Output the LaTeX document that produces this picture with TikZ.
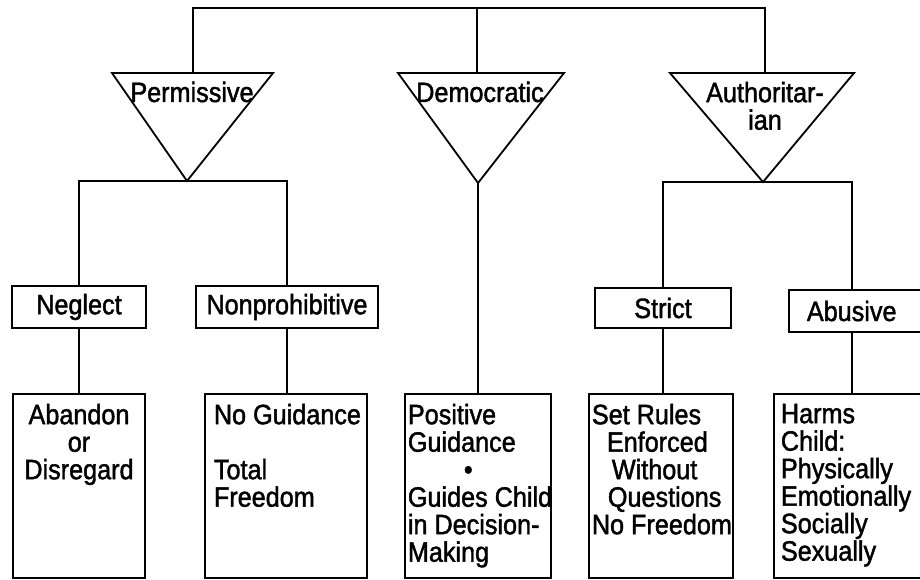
\documentclass[tikz,border=0pt]{standalone}
\usepackage{fontspec}
\setmainfont{Liberation Sans}[FakeStretch=0.9,FakeBold=1.5]
\tikzset{
  lbl/.style={font=\fontsize{28}{27.5}\selectfont, inner sep=0pt},
  catbox/.style={draw, lbl, minimum height=41pt},
  leafbox/.style={draw, inner sep=0pt, minimum height=184pt, anchor=north},
  leaftext/.style={lbl, anchor=north west, align=left},
}
\begin{document}
\begin{tikzpicture}[x=1pt,y=-1pt,line width=1.8pt]
\useasboundingbox (0,0) rectangle (920,580);
\clip (0,0) rectangle (920,580);
% three styles
\coordinate (root) at (477,8);
\coordinate (permtop) at (193,73);
\coordinate (demtop) at (477,73);
\coordinate (authtop) at (765,73);
\coordinate (permtip) at (187,181);
\coordinate (demtip) at (478,183);
\coordinate (authtip) at (763,182);
\draw (112,73) -- (273,73) -- (permtip) -- cycle;
\draw (398,73) -- (564,73) -- (demtip) -- cycle;
\draw (670,73) -- (854,73) -- (authtip) -- cycle;
\node[lbl, anchor=base] (perm) at (192,102) {Permissive};
\node[lbl, anchor=base] (dem) at (480,102) {Democratic};
\node[lbl, anchor=north, align=center] (auth) at (765,81) {Authoritar-\\ian};
\draw (permtop) |- (root) -| (authtop);
\draw (root) -- (demtop);
% second level
\node[catbox, minimum width=134pt, minimum height=42pt] (neglect) at (79,307) {Neglect};
\node[catbox, minimum width=182pt, minimum height=42pt] (nonpro) at (287,307) {Nonprohibitive};
\node[catbox, minimum width=136pt, minimum height=40pt] (strict) at (663,308) {Strict};
\node[catbox, anchor=west, minimum width=150pt, minimum height=42pt, text width=134pt, align=left] (abusive) at (788,311) {\hspace*{10pt}Abusive};
\draw (neglect.north) |- (permtip) -| (nonpro.north);
\draw (strict.north) |- (authtip) -| ([xshift=64pt]abusive.north west);
% leaves
\node[leafbox, minimum width=132pt] (abandon) at (79,393) {};
\node[leafbox, minimum width=162pt] (noguide) at (286,393) {};
\node[leafbox, minimum width=146pt] (positive) at (478,393) {};
\node[leafbox, minimum width=144pt] (setrules) at (661,393) {};
\node[leafbox, minimum width=170pt, anchor=north west] (harms) at (773,393) {};
\draw (neglect) -- (neglect.south |- abandon.north);
\draw (nonpro) -- (nonpro.south |- noguide.north);
\draw (demtip) -- (demtip |- positive.north);
\draw (strict) -- (strict.south |- setrules.north);
\draw ([xshift=64pt]abusive.south west) -- ([xshift=64pt]abusive.south west |- harms.north);
\node[lbl, anchor=north, align=center] at (79,403) {Abandon\\or\\Disregard};
\node[leaftext] at (213,403) {No Guidance\\[27.5pt]Total\\Freedom};
\node[leaftext] at (407,403) {Positive\\Guidance\\\hspace*{56pt}\textbullet\\Guides Child\\in Decision-\\Making};
\node[leaftext] at (591,403) {Set Rules\\\hspace*{15pt}Enforced\\\hspace*{20pt}Without\\\hspace*{16pt}Questions\\No Freedom};
\node[leaftext] at (780,403) {Harms\\Child:\\Physically\\Emotionally\\Socially\\Sexually};
\end{tikzpicture}
\end{document}
